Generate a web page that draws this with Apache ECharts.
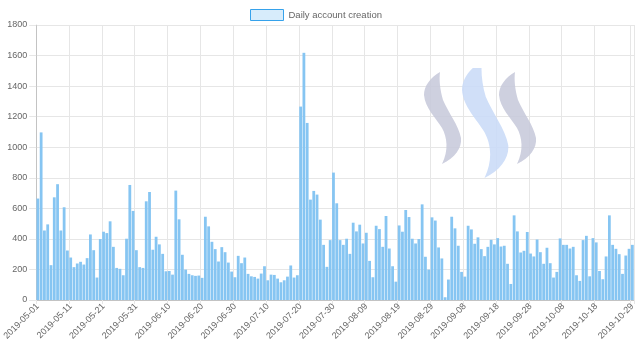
<!DOCTYPE html>
<html><head><meta charset="utf-8">
<script src="https://cdn.jsdelivr.net/npm/echarts@6/dist/echarts.min.js"></script>
<style>html,body{margin:0;padding:0;background:#fff}#c{width:640px;height:361px}</style>
</head><body><div id="c"></div>
<script>
// ---- data ----
const seriesName = 'Daily account creation';
const startDay = [2019, 4, 1]; // 2019-05-01
const dayCount = 182;          // through 2019-10-29
const values = [
  664, 1097, 455, 495, 228, 672, 758, 455, 607, 324,
  278, 215, 239, 250, 232, 274, 429, 326, 147, 399,
  447, 438, 515, 348, 210, 204, 162, 401, 753, 583,
  326, 215, 210, 646, 707, 329, 414, 364, 302, 188,
  190, 166, 716, 528, 296, 199, 171, 162, 158, 160,
  145, 545, 482, 381, 333, 252, 346, 313, 245, 186,
  149, 289, 241, 278, 171, 155, 151, 140, 173, 221,
  129, 166, 164, 140, 116, 129, 153, 226, 147, 162,
  1266, 1618, 1159, 657, 714, 690, 526, 361, 217, 392,
  834, 633, 392, 361, 401, 302, 506, 449, 493, 370,
  440, 256, 149, 486, 464, 348, 550, 337, 221, 120,
  488, 447, 589, 543, 401, 370, 399, 626, 283, 199,
  541, 520, 344, 272, 18, 134, 545, 469, 355, 184,
  153, 486, 462, 368, 410, 333, 287, 348, 394, 364,
  405, 350, 355, 237, 105, 554, 449, 311, 322, 445,
  304, 285, 396, 313, 237, 342, 241, 147, 184, 403,
  361, 361, 337, 348, 162, 125, 392, 420, 155, 405,
  377, 190, 136, 285, 554, 361, 335, 300, 171, 291,
  335, 361
];
const yMin = 0, yMax = 1800, yStep = 200;
const labelEvery = 10;

const dates = [];
for (let i = 0; i < dayCount; i++) {
  dates.push(new Date(Date.UTC(startDay[0], startDay[1], startDay[2] + i)).toISOString().slice(0, 10));
}
const lastIdx = dates.length - 1;
const showIdx = (i) => (i % labelEvery === 0 && lastIdx - i >= labelEvery) || i === lastIdx;

// steem logo (decoration) as inline SVG
const stroke = 'M 20 4 C 10 10, 4 18, 4 27 C 5 40, 16 50, 22 60 C 27 69, 29 82, 22 96 C 35 90, 42 80, 41 70 C 39 58, 28 44, 23 32 C 20 22, 19 12, 20 4 Z';
const logoSvg = '<svg xmlns="http://www.w3.org/2000/svg" width="130" height="125" viewBox="0 0 130 125">' +
  '<path d="' + stroke + '" fill="rgb(201,203,220)"/>' +
  '<g transform="translate(37,-12) scale(1.25,1.27)"><path d="' + stroke + '" fill="rgb(203,220,248)"/></g>' +
  '<g transform="translate(75,0)"><path d="' + stroke + '" fill="rgb(201,203,220)"/></g></svg>';
const logoUrl = 'data:image/svg+xml;charset=utf-8,' + encodeURIComponent(logoSvg);

const chart = echarts.init(document.getElementById('c'), null, {renderer: 'canvas'});
const font = 'Liberation Sans, Arial, Helvetica, sans-serif';
const gridColor = '#e6e6e6';
chart.setOption({
  animation: false,
  textStyle: {fontFamily: font},
  legend: {
    top: 9, left: 250, padding: 0,
    itemWidth: 33, itemHeight: 11, itemGap: 10,
    icon: 'rect',
    textStyle: {fontSize: 9.5, color: '#666', fontFamily: font},
    data: [{name: seriesName, itemStyle: {color: 'rgba(54,162,235,0.2)', borderColor: '#36a2eb', borderWidth: 1}}]
  },
  grid: {left: 34, right: 6, top: 25, bottom: 61},
  graphic: [
    {type: 'image', left: 420, top: 68, z: 100, style: {image: logoUrl, width: 130, height: 125, opacity: 0.9}}
  ],
  xAxis: {
    type: 'category',
    data: dates,
    boundaryGap: true,
    axisLine: {show: true, lineStyle: {color: 'rgba(0,0,0,0.15)', width: 1}},
    axisTick: {show: true, interval: (i) => showIdx(i), length: 4, lineStyle: {color: gridColor}},
    splitLine: {show: true, interval: (i) => showIdx(i), lineStyle: {color: gridColor, width: 1}},
    axisLabel: {interval: (i) => showIdx(i), rotate: 45, fontSize: 9, color: '#666', margin: 5, fontFamily: font}
  },
  yAxis: {
    type: 'value',
    min: yMin, max: yMax, interval: yStep,
    axisLine: {show: true, lineStyle: {color: 'rgba(0,0,0,0.15)', width: 1}},
    axisTick: {show: true, length: 7, lineStyle: {color: gridColor}},
    splitLine: {show: true, lineStyle: {color: gridColor, width: 1}},
    axisLabel: {fontSize: 9, color: '#666', margin: 9, fontFamily: font, formatter: (v) => String(v)}
  },
  series: [{
    name: seriesName,
    type: 'bar',
    data: values,
    barCategoryGap: '15%',
    itemStyle: {color: '#86c5f2'},
    z: 2
  }]
});
</script>
</body></html>
